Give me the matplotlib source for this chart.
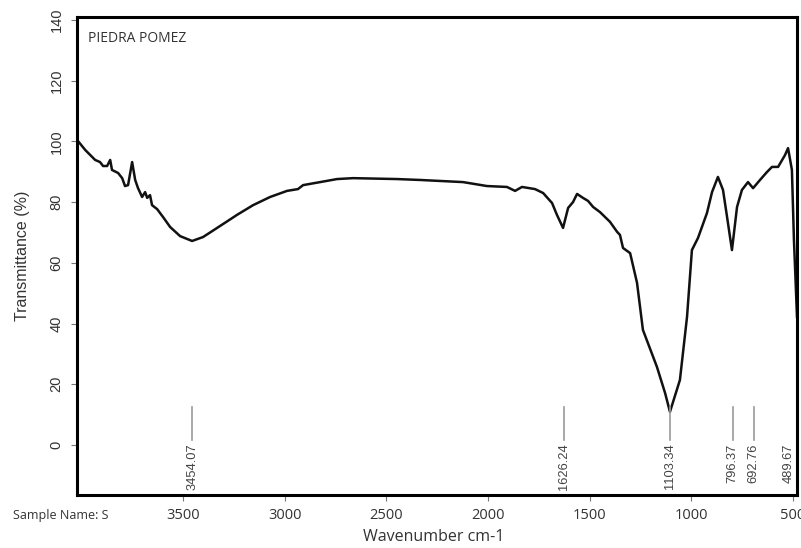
import matplotlib
matplotlib.use('Agg')
import matplotlib.pyplot as plt

# spectrum (wavenumber cm-1, transmittance %)
wavenumber = [4017, 3982, 3933, 3909, 3894, 3874, 3859, 3850, 3820, 3800,
              3786, 3771, 3751, 3736, 3722, 3702, 3687, 3677, 3663, 3653,
              3628, 3599, 3564, 3515, 3456, 3402, 3333, 3269, 3235, 3156,
              3072, 2989, 2935, 2910, 2826, 2743, 2664, 2448, 2334, 2123,
              2005, 1907, 1867, 1833, 1769, 1729, 1685, 1661, 1631, 1606,
              1582, 1562, 1533, 1508, 1483, 1449, 1400, 1365, 1351, 1336,
              1301, 1267, 1238, 1169, 1129, 1105, 1056, 1021, 997, 967,
              923, 898, 869, 844, 824, 800, 775, 751, 721, 696,
              662, 628, 603, 573, 539, 524, 505, 495, 480]
transmittance = [100.1, 97.2, 93.9, 93.2, 91.9, 91.9, 93.9, 90.6, 89.6, 87.9,
                 85.3, 85.6, 93.2, 87.3, 84.6, 81.7, 83.3, 81.4, 82.3, 79.0,
                 77.7, 75.1, 71.8, 68.8, 67.2, 68.5, 71.5, 74.3, 75.8, 79.0,
                 81.7, 83.7, 84.3, 85.6, 86.6, 87.6, 87.9, 87.6, 87.3, 86.6,
                 85.3, 85.0, 83.7, 85.0, 84.3, 83.0, 79.7, 75.8, 71.5, 78.1,
                 80.0, 82.7, 81.4, 80.4, 78.4, 76.7, 73.5, 70.2, 69.2, 64.9,
                 63.2, 53.4, 37.9, 25.7, 17.1, 10.9, 21.4, 42.2, 64.2, 68.2,
                 76.4, 83.3, 88.3, 84.0, 75.1, 64.2, 78.4, 84.0, 86.6, 84.6,
                 87.3, 89.9, 91.6, 91.6, 95.5, 97.8, 90.6, 67.5, 42.2]

peaks = [3454.07, 1626.24, 1103.34, 796.37, 692.76, 489.67]
peak_labels = ['3454.07', '1626.24', '1103.34', '796.37', '692.76', '489.67']

xticks = [3500, 3000, 2500, 2000, 1500, 1000, 500]
yticks = [0, 20, 40, 60, 80, 100, 120, 140]

fig = plt.figure(figsize=(8.01, 5.48), dpi=100)
ax = fig.add_axes([0.0967, 0.0967, 0.8983, 0.8723])

ax.plot(wavenumber, transmittance, color='#111111', lw=1.8, solid_joinstyle='round')

# peak markers
for p, lab in zip(peaks, peak_labels):
    if p > 500:
        ax.plot([p, p], [12.5, 1.5], color='#9a9a9a', lw=1.2)
        ax.text(p, 0.5, lab, rotation=90, ha='center', va='top',
                fontsize=9.3, color='#444444', family='Liberation Sans')
    else:
        ax.text(p, 0.5, lab, rotation=90, ha='right', va='top',
                fontsize=9.3, color='#444444', family='Liberation Sans')

ax.set_xlim(4020, 480)
ax.set_ylim(-16.5, 141)

ax.set_xticks(xticks)
ax.set_xticklabels([str(x) for x in xticks], fontsize=10.5, family='Open Sans')
ax.set_yticks(yticks)
ax.set_yticklabels([str(y) for y in yticks], fontsize=10.5, family='Liberation Sans',
                   rotation=90, va='center')
ax.tick_params(axis='both', direction='out', length=4, width=0.8, colors='#777777')
ax.tick_params(axis='x', pad=5, labelcolor='#333333')
ax.tick_params(axis='y', pad=6, labelcolor='#333333')

for s in ax.spines.values():
    s.set_linewidth(2.2)
    s.set_color('black')

ax.set_ylabel('Transmittance (%)', fontsize=11.5, family='Liberation Sans', color='#333333', labelpad=14)
fig.text(0.542, 0.02, 'Wavenumber cm-1', ha='center', va='center', fontsize=11.5,
         family='Open Sans', color='#333333')
fig.text(0.016, 0.06, 'Sample Name: S', ha='left', va='center', fontsize=9,
         family='Open Sans', color='#333333')
ax.text(0.014, 0.955, 'PIEDRA POMEZ', transform=ax.transAxes, ha='left', va='center',
        fontsize=10, family='Open Sans', color='#333333')

fig.savefig('out.png', dpi=100)
